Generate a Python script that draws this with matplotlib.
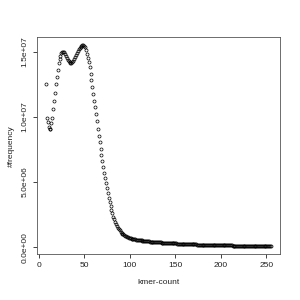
import matplotlib
matplotlib.use("Agg")
import matplotlib.pyplot as plt
import numpy as np

# kmer-count histogram, frequencies in millions
kmer_start = 8
freq_head = [
    12.5, 9.95, 9.6, 9.2, 9.05, 9.1, 9.5, 9.95,             # 8-15
    10.6, 11.2, 11.8, 12.5, 13.05, 13.6, 14.1, 14.45,       # 16-23
    14.7, 14.9, 15.0, 15.0, 14.95, 14.85, 14.7, 14.55,      # 24-31
    14.4, 14.3, 14.2, 14.15, 14.15, 14.2, 14.3, 14.45,      # 32-39
    14.6, 14.75, 14.9, 15.05, 15.2, 15.3, 15.4, 15.45,      # 40-47
    15.5, 15.5, 15.45, 15.35, 15.1, 14.8, 14.5, 14.2,       # 48-55
    13.8, 13.3, 12.8, 12.3, 11.75, 11.25, 10.75, 10.2,      # 56-63
    9.65, 9.1, 8.55, 8.05, 7.55, 7.05, 6.6, 6.15,           # 64-71
    5.7, 5.3, 4.9, 4.5, 4.15, 3.8, 3.45, 3.15,              # 72-79
    2.85, 2.6, 2.35, 2.15, 1.95, 1.78, 1.63, 1.5,           # 80-87
    1.38, 1.28, 1.19, 1.11, 1.04, 0.98, 0.92, 0.87,         # 88-95
    0.83, 0.79, 0.76, 0.73, 0.70,                           # 96-100
]
freq_tail = [
    0.68, 0.66, 0.64, 0.62, 0.61, 0.59, 0.58, 0.56, 0.55, 0.54,
    0.53, 0.52, 0.51, 0.50, 0.49, 0.48, 0.47, 0.46, 0.46, 0.45,
    0.44, 0.43, 0.43, 0.42, 0.41, 0.41, 0.40, 0.39, 0.39, 0.38,
    0.37, 0.37, 0.36, 0.36, 0.35, 0.35, 0.34, 0.34, 0.33, 0.33,
    0.32, 0.32, 0.31, 0.31, 0.30, 0.30, 0.29, 0.29, 0.29, 0.28,
    0.28, 0.27, 0.27, 0.27, 0.26, 0.26, 0.26, 0.25, 0.25, 0.25,
    0.24, 0.24, 0.24, 0.23, 0.23, 0.23, 0.22, 0.22, 0.22, 0.22,
    0.21, 0.21, 0.21, 0.20, 0.20, 0.20, 0.20, 0.19, 0.19, 0.19,
    0.19, 0.18, 0.18, 0.18, 0.18, 0.17, 0.17, 0.17, 0.17, 0.17,
    0.16, 0.16, 0.16, 0.16, 0.16, 0.15, 0.15, 0.15, 0.15, 0.15,
    0.14, 0.14, 0.14, 0.14, 0.14, 0.14, 0.13, 0.13, 0.13, 0.13,
    0.13, 0.13, 0.12, 0.12, 0.12, 0.12, 0.12, 0.12, 0.12, 0.11,
    0.11, 0.11, 0.11, 0.11, 0.11, 0.11, 0.11, 0.10, 0.10, 0.10,
    0.10, 0.10, 0.10, 0.10, 0.10, 0.10, 0.09, 0.09, 0.09, 0.09,
    0.09, 0.09, 0.09, 0.09, 0.09, 0.09, 0.09, 0.08, 0.08, 0.08,
    0.08, 0.08, 0.08, 0.08, 0.08,
]
xticks = [0, 50, 100, 150, 200, 250]
yticks = [0, 5e6, 1e7, 1.5e7]
ytick_labels = ["0.0e+00", "5.0e+06", "1.0e+07", "1.5e+07"]

freq = np.array(freq_head + freq_tail) * 1e6
kmer = np.arange(kmer_start, kmer_start + len(freq))

plt.rcParams['font.family'] = ['Liberation Sans', 'DejaVu Sans']

fig = plt.figure(figsize=(3, 3), dpi=100)
ax = fig.add_axes([0.123, 0.153, 0.81, 0.723])

ax.plot(kmer, freq, 'o', mfc='none', mec='black', ms=2.2, mew=0.5)

# R style 4% padding
xr = kmer.max() - kmer.min()
ax.set_xlim(kmer.min() - 0.04 * xr, kmer.max() + 0.04 * xr)
yr = freq.max() - freq.min()
ax.set_ylim(freq.min() - 0.04 * yr, freq.max() + 0.04 * yr)

ax.set_xticks(xticks)
ax.set_yticks(yticks)
ax.set_yticklabels(ytick_labels, rotation=90, va='center')
ax.tick_params(direction='out', length=3, width=0.6, labelsize=6, pad=3,
               colors='#222222')

for s in ax.spines.values():
    s.set_linewidth(0.6)
    s.set_color('#555555')

ax.set_xlabel('kmer-count', fontsize=6, labelpad=7, color='#222222')
ax.set_ylabel('#frequency', fontsize=6, labelpad=5, color='#222222')

fig.savefig('out.png', dpi=100)
